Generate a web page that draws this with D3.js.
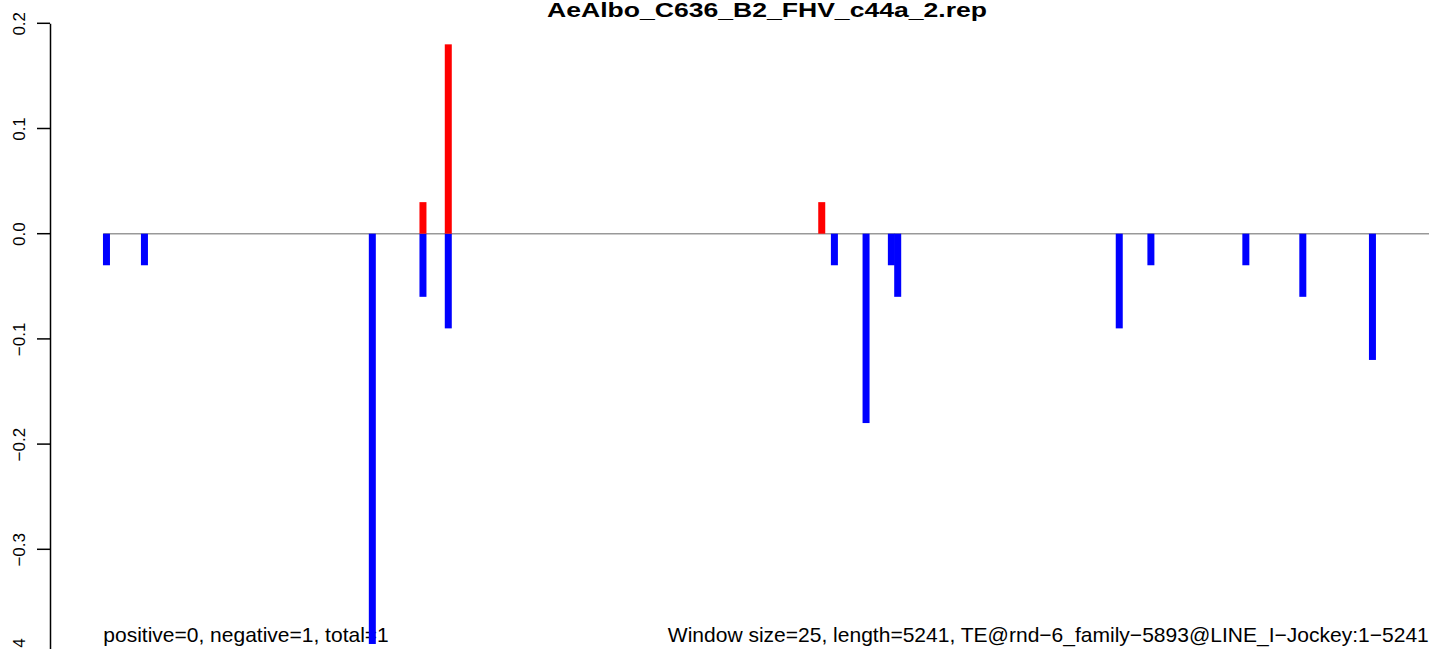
<!DOCTYPE html>
<html>
<head>
<meta charset="utf-8">
<script src="https://cdn.jsdelivr.net/npm/d3@7"></script>
<style>
  body { margin: 0; background: white; }
  text { font-family: "Liberation Sans", Arial, Helvetica, sans-serif; fill: black; }
</style>
</head>
<body>
<div id="chart"></div>
<script>
// window midpoints (bp) and scores
var negPos = [12.5, 162.5, 1062.5, 1262.5, 1362.5, 2887.5, 3012.5, 3112.5, 3137.5, 4012.5, 4137.5, 4512.5, 4737.5, 5012.5];
var negVal = [-0.03, -0.03, -0.39, -0.06, -0.09, -0.03, -0.18, -0.03, -0.06, -0.09, -0.03, -0.03, -0.06, -0.12];
var posPos = [1262.5, 1362.5, 2837.5];
var posVal = [0.03, 0.18, 0.03];
var yTicks = [-0.4, -0.3, -0.2, -0.1, 0.0, 0.1, 0.2];
var seqLength = 5241;
var title = "AeAlbo_C636_B2_FHV_c44a_2.rep";
var leftNote = "positive=0, negative=1, total=1";
var rightNote = "Window size=25, length=5241, TE@rnd\u22126_family\u22125893@LINE_I\u2212Jockey:1\u22125241";

var width = 1429, height = 649;

var svg = d3.select("#chart").append("svg")
	.attr("width", width)
	.attr("height", height);

var x = d3.scaleLinear().domain([0, seqLength]).range([103.3, 1430.3]);
var y = d3.scaleLinear().domain([-0.4, 0.2]).range([654.5, 23.3]);

// y axis, R style (rotated labels)
var yAxis = svg.append("g")
	.attr("transform", "translate(50,0)")
	.call(d3.axisLeft(y).tickValues(yTicks).tickSize(0).tickSizeOuter(0)
		.tickFormat(function(d) { return d3.format(".1f")(d).replace("-", "\u2212"); }));
yAxis.select(".domain").attr("stroke", "#000").attr("stroke-width", 1.5);
yAxis.selectAll(".tick text")
	.attr("font-size", 17)
	.attr("font-family", "Liberation Sans, Arial, sans-serif")
	.attr("fill", "#111")
	.attr("text-anchor", "middle")
	.attr("x", 0).attr("y", 0).attr("dy", 0)
	.attr("transform", "translate(-25.5,0) rotate(-90)");

// tick marks
yAxis.selectAll(".tickmark").data(yTicks).enter().append("line")
	.attr("class", "tickmark")
	.attr("x1", -13).attr("x2", 0)
	.attr("y1", function(d) { return y(d); })
	.attr("y2", function(d) { return y(d); })
	.attr("stroke", "#000").attr("stroke-width", 1.5);

// zero line
svg.append("line")
	.attr("x1", x(0)).attr("x2", x(seqLength))
	.attr("y1", y(0)).attr("y2", y(0))
	.attr("stroke", "#999999").attr("stroke-width", 1.5);

// title
svg.append("text").attr("x", 767).attr("y", 16.5)
	.attr("text-anchor", "middle").attr("font-weight", "bold").attr("font-size", 20)
	.attr("textLength", 440).attr("lengthAdjust", "spacingAndGlyphs")
	.text(title);

// notes under the bars
svg.append("text").attr("x", x(0)).attr("y", 642)
	.attr("text-anchor", "start").attr("font-size", 21)
	.attr("fill", "#1a1a1a")
	.text(leftNote);
svg.append("text").attr("x", x(seqLength) - 1.5).attr("y", 642)
	.attr("text-anchor", "end").attr("font-size", 21)
	.attr("fill", "#1a1a1a")
	.attr("textLength", 761).attr("lengthAdjust", "spacingAndGlyphs")
	.text(rightNote);

var barW = 7;

svg.selectAll(".neg").data(negPos).enter().append("rect")
	.attr("class", "neg")
	.attr("x", function(d) { return x(d) - barW / 2; })
	.attr("y", y(0))
	.attr("width", barW)
	.attr("height", function(d, i) { return y(negVal[i]) - y(0); })
	.attr("fill", "#0000ff");

svg.selectAll(".pos").data(posPos).enter().append("rect")
	.attr("class", "pos")
	.attr("x", function(d) { return x(d) - barW / 2; })
	.attr("y", function(d, i) { return y(posVal[i]); })
	.attr("width", barW)
	.attr("height", function(d, i) { return y(0) - y(posVal[i]); })
	.attr("fill", "#ff0000");
</script>
</body>
</html>
